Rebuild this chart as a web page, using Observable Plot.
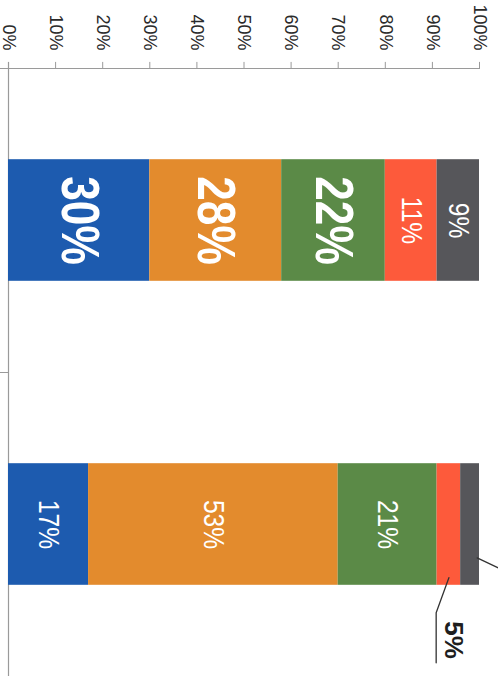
<!DOCTYPE html>
<html>
<head>
<meta charset="utf-8">
<script src="https://cdn.jsdelivr.net/npm/d3@7"></script>
<script src="https://cdn.jsdelivr.net/npm/@observablehq/plot@0.6"></script>
<style>
  html, body { margin: 0; padding: 0; background: #fff; overflow: hidden; }
  #chart svg { display: block; overflow: visible; }
</style>
</head>
<body>
<div id="chart"></div>
<script>
// ---- data ----
const categories = ["Group A", "Group B"];
const seriesNames = ["Series 1", "Series 2", "Series 3", "Series 4", "Series 5"];
const groupAValues = [30, 28, 22, 11, 9];
const groupBValues = [17, 53, 21, 5, 4];
const seriesColors = ["#1d5baf", "#e38b2d", "#5b8a47", "#fd5a3b", "#56565a"];
const tickValues = [0, 10, 20, 30, 40, 50, 60, 70, 80, 90, 100];

// ---- build stacked rows ----
const allValues = [groupAValues, groupBValues];
const rows = [];
categories.forEach((cat, i) => {
  let acc = 0;
  allValues[i].forEach((v, j) => {
    rows.push({cat, i, series: seriesNames[j], value: v, x1: acc, x2: acc + v, mid: acc + v / 2});
    acc += v;
  });
});

const half = 0.2;
const labelFont = "'Liberation Sans', Arial, sans-serif";
const bigLabels = rows.filter(d => d.i === 0 && d.value >= 20);
const smallLabels = rows.filter(d => d.value >= 9 && !(d.i === 0 && d.value >= 20));
const outsideRed = rows.filter(d => d.i === 1 && d.series === seriesNames[3]);
const outsideGray = rows.filter(d => d.i === 1 && d.series === seriesNames[4]);

const redLeader = outsideRed.flatMap(d => [
  {x: d.mid, y: d.i + 0.175},
  {x: d.x1 - 0.2, y: d.i + 0.29},
  {x: d.x1 - 0.2, y: d.i + 0.455}
]);
const grayLeader = outsideGray.flatMap(d => [
  {x: d.x2 - 0.5, y: d.i + 0.11},
  {x: d.x2 + 5, y: d.i + 0.15}
]);

const axisColor = "#9a9a9a";

const chart = Plot.plot({
  width: 498,
  height: 676,
  marginLeft: 8,
  marginRight: 19,
  marginTop: 68,
  marginBottom: 0,
  x: {domain: [0, 100], axis: null},
  y: {domain: [-0.5, 1.5], reverse: true, axis: null},
  color: {domain: seriesNames, range: seriesColors},
  style: {fontFamily: "'Liberation Sans', Arial, sans-serif", background: "white"},
  marks: [
    // axis lines
    Plot.ruleY([-0.5], {stroke: axisColor, strokeWidth: 1, insetLeft: -8, insetRight: -1}),
    Plot.ruleX(tickValues, {x: d => d, y1: -0.5, y2: -0.52, stroke: axisColor, strokeWidth: 1}),
    Plot.ruleX([0], {y1: -0.52, y2: 1.5, stroke: axisColor, strokeWidth: 1.2}),
    Plot.ruleY([0.5], {x1: 0, x2: 0, insetLeft: -8, stroke: axisColor, strokeWidth: 1}),
    // tick labels
    Plot.text(tickValues, {
      x: d => d, y: -0.5, text: d => d + "%", rotate: 90,
      textAnchor: "end", lineAnchor: "middle", dy: -18,
      fontSize: 18, fill: "#2a2a2a"
    }),
    // bars
    Plot.rectX(rows, {
      x1: "x1", x2: "x2", y1: d => d.i - half, y2: d => d.i + half, fill: "series"
    }),
    // big labels
    Plot.text(bigLabels, {
      x: "mid", y: "i", text: d => d.value + "%", rotate: 90,
      fill: "white", fontSize: 54, fontWeight: "bold", fontFamily: labelFont,
      textAnchor: "middle", lineAnchor: "middle"
    }),
    // small labels
    Plot.text(smallLabels, {
      x: "mid", y: "i", text: d => d.value + "%", rotate: 90,
      fill: "white", fontSize: 30, fontFamily: labelFont,
      textAnchor: "middle", lineAnchor: "middle"
    }),
    // leader lines
    Plot.line(redLeader, {x: "x", y: "y", stroke: "#333", strokeWidth: 1.3}),
    Plot.line(grayLeader, {x: "x", y: "y", stroke: "#333", strokeWidth: 1.3}),
    Plot.text(outsideRed, {
      x: "mid", y: d => d.i + 0.38, dx: 4, text: d => d.value + "%", rotate: 90,
      fill: "#1e1e1e", fontSize: 26, fontWeight: "bold",
      textAnchor: "middle", lineAnchor: "middle"
    })
  ]
});

document.getElementById("chart").appendChild(chart);

// Emulate a narrow (condensed) face for the in-bar labels: Arial Narrow is ~82% of Arial's width.
chart.querySelectorAll("g[font-size]").forEach(g => {
  const fs = g.getAttribute("font-size");
  if (fs === "54" || fs === "30") {
    g.querySelectorAll("text").forEach(t => {
      const w = t.getComputedTextLength();
      if (w > 0) {
        t.setAttribute("textLength", (w * 0.82).toFixed(1));
        t.setAttribute("lengthAdjust", "spacingAndGlyphs");
      }
    });
  }
});
</script>
</body>
</html>
